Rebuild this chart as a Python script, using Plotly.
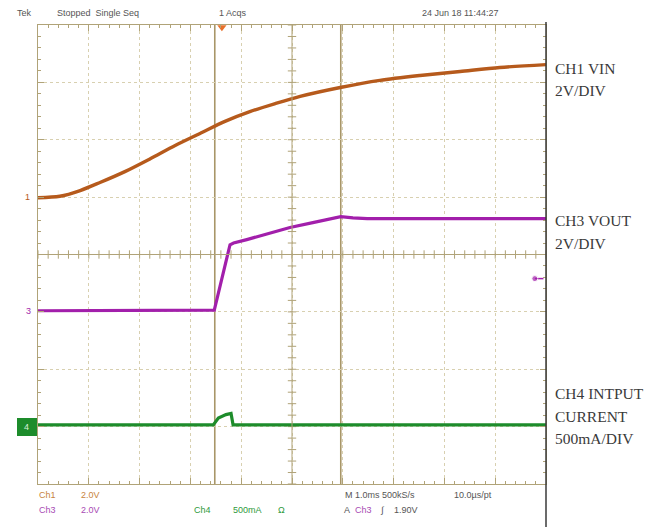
import numpy as np
import plotly.graph_objects as go

# ---------------- data ----------------
# time axis: 1.0 ms/div, 10 divisions
vin_t = [0, 0.43, 0.83, 1.22, 1.71, 2.21, 2.70, 3.19, 3.68, 4.17, 4.67, 5.16, 5.95,
         6.73, 7.52, 8.31, 9.09, 10]
vin_v = [0, 0.05, 0.25, 0.53, 0.91, 1.36, 1.82, 2.24, 2.66, 3.00, 3.28, 3.53, 3.84,
         4.09, 4.26, 4.40, 4.54, 4.64]   # V

vout_t = [0, 3.0, 3.47, 3.78, 3.85, 4.11, 4.96, 5.41, 5.96, 6.2, 6.48, 7.13, 8.5, 10]
vout_v = [0, 0, 0.02, 2.30, 2.36, 2.48, 2.90, 3.07, 3.28, 3.24, 3.21, 3.21, 3.21, 3.21]   # V

iin_t = [0, 3.45, 3.55, 3.70, 3.80, 3.84, 10]
iin_ma = [0, 0, 60, 90, 100, 0, 0]                                                    # mA

# channel settings (scale per division, ground-marker position in divisions)
ch1_scale, ch1_gnd = 2.0, 4.99
ch3_scale, ch3_gnd = 2.0, 3.02
ch4_scale, ch4_gnd = 500.0, 1.03

cursor_times = [3.48, 5.96]
trigger_time = 3.62
trigger_level_div = 3.58

right_labels = [("CH1 VIN", 68), ("2V/DIV", 90),
                ("CH3 VOUT", 221), ("2V/DIV", 243),
                ("CH4 INTPUT", 393), ("CURRENT", 416), ("500mA/DIV", 438)]

# ---------------- style ----------------
C1 = "#b65a1c"
C3 = "#a21fab"
C4 = "#1d8c2b"
GRID = "#d8d0b0"
AXL = "#b0a378"
CUR = "#a89668"
TXT = "#555555"

OFF = 8                      # browser body margin
W, H = 657 - OFF, 527 - OFF
L, R, T, B = 38, 546, 25, 484   # plot area in page pixels


def px(x):
    return (x - L) / (R - L)


def py(y):
    return (B - y) / (B - T)


fig = go.Figure()

# centre cross ticks
ticks = np.arange(0, 10.001, 0.2)
fig.add_trace(go.Scatter(x=ticks, y=[4] * len(ticks), mode="markers",
                         marker=dict(symbol="line-ns", size=6, line=dict(color=AXL, width=1)),
                         hoverinfo="skip", showlegend=False))
vt = np.arange(0, 8.001, 0.2)
fig.add_trace(go.Scatter(x=[5] * len(vt), y=vt, mode="markers",
                         marker=dict(symbol="line-ew", size=6, line=dict(color=AXL, width=1)),
                         hoverinfo="skip", showlegend=False))

# channel traces
fig.add_trace(go.Scatter(x=vin_t, y=[ch1_gnd + v / ch1_scale for v in vin_v], mode="lines",
                         line=dict(color=C1, width=3.4, shape="spline", smoothing=0.8),
                         showlegend=False))
fig.add_trace(go.Scatter(x=vout_t, y=[ch3_gnd + v / ch3_scale for v in vout_v], mode="lines",
                         line=dict(color=C3, width=3.2), showlegend=False))
fig.add_trace(go.Scatter(x=iin_t, y=[ch4_gnd + i / ch4_scale for i in iin_ma], mode="lines",
                         line=dict(color=C4, width=3.2), showlegend=False))

# trigger position (top) and trigger level (right)
fig.add_trace(go.Scatter(x=[trigger_time], y=[7.96], mode="markers",
                         marker=dict(symbol="triangle-down", size=8, color="#e8702a"),
                         cliponaxis=False, showlegend=False))
fig.add_trace(go.Scatter(x=[9.78, 9.95], y=[trigger_level_div] * 2, mode="lines+markers",
                         line=dict(color=C3, width=1.5),
                         marker=dict(size=[6, 0], color=C3),
                         cliponaxis=False, showlegend=False))

shapes = []
# centre lines
shapes.append(dict(type="line", xref="x", yref="y", x0=0, x1=10, y0=4, y1=4,
                   line=dict(color=AXL, width=1)))
shapes.append(dict(type="line", xref="x", yref="y", x0=5, x1=5, y0=0, y1=8,
                   line=dict(color=AXL, width=1)))
# cursors
for ct in cursor_times:
    shapes.append(dict(type="line", xref="x", yref="y", x0=ct, x1=ct, y0=0, y1=8,
                       line=dict(color=CUR, width=1.6), layer="below"))
# right dark border
shapes.append(dict(type="line", xref="paper", yref="paper", x0=1, x1=1,
                   y0=py(530), y1=py(22), line=dict(color="#3a3a3a", width=1.5)))
# CH4 ground marker box
shapes.append(dict(type="rect", xref="paper", yref="paper", x0=px(17), x1=px(37),
                   y0=py(436), y1=py(418), fillcolor=C4, line=dict(width=0)))
fig.update_layout(shapes=shapes)

ann = []


def txt(x, y, s, color=TXT, size=9, family="Liberation Sans"):
    ann.append(dict(x=px(x), y=py(y), xref="paper", yref="paper", text=s, showarrow=False,
                    xanchor="left", yanchor="middle",
                    font=dict(family=family, size=size, color=color)))


# top status line
txt(15, 13, "Tek")
txt(55, 13, "Stopped  Single Seq")
txt(217, 13, "1 Acqs")
txt(420, 13, "24 Jun 18 11:44:27")
# ground markers
txt(23, 197, "1", C1, 9)
txt(24, 311, "3", C3, 9)
txt(22, 427, "4", "#d8f0d8", 9)
# bottom readouts
txt(37, 495, "Ch1", "#c8843e")
txt(79, 495, "2.0V", "#c8843e")
txt(37, 510, "Ch3", "#a84ab4")
txt(79, 510, "2.0V", "#a84ab4")
txt(192, 510, "Ch4", "#2f9a3d")
txt(231, 510, "500mA", "#2f9a3d")
txt(276, 510, "Ω", "#2f9a3d")
txt(343, 495, "M 1.0ms 500kS/s")
txt(452, 495, "10.0µs/pt")
txt(342, 510, "A")
txt(353, 510, "Ch3", "#a84ab4")
txt(378, 510, "∫")
txt(392, 510, "1.90V")
# channel captions on the right
for s, y in right_labels:
    txt(553, y, s, "#3a3a3a", 15.5, "Liberation Serif")

fig.update_layout(annotations=ann)

axis_common = dict(showgrid=True, gridcolor=GRID, griddash="dot", gridwidth=1,
                   zeroline=False, showticklabels=False, showline=True,
                   linecolor=AXL, linewidth=1, mirror="allticks",
                   ticks="inside", ticklen=6, tickcolor=AXL, dtick=1,
                   minor=dict(dtick=0.2, ticks="inside", ticklen=3, tickcolor=AXL))
fig.update_xaxes(range=[0, 10], tick0=0, **axis_common)
fig.update_yaxes(range=[0, 8], tick0=0, **axis_common)

fig.update_layout(width=W, height=H,
                  margin=dict(l=L - OFF, r=W - (R - OFF), t=T - OFF, b=H - (B - OFF), pad=0),
                  paper_bgcolor="white", plot_bgcolor="white",
                  showlegend=False)

fig.write_html("out.html")
